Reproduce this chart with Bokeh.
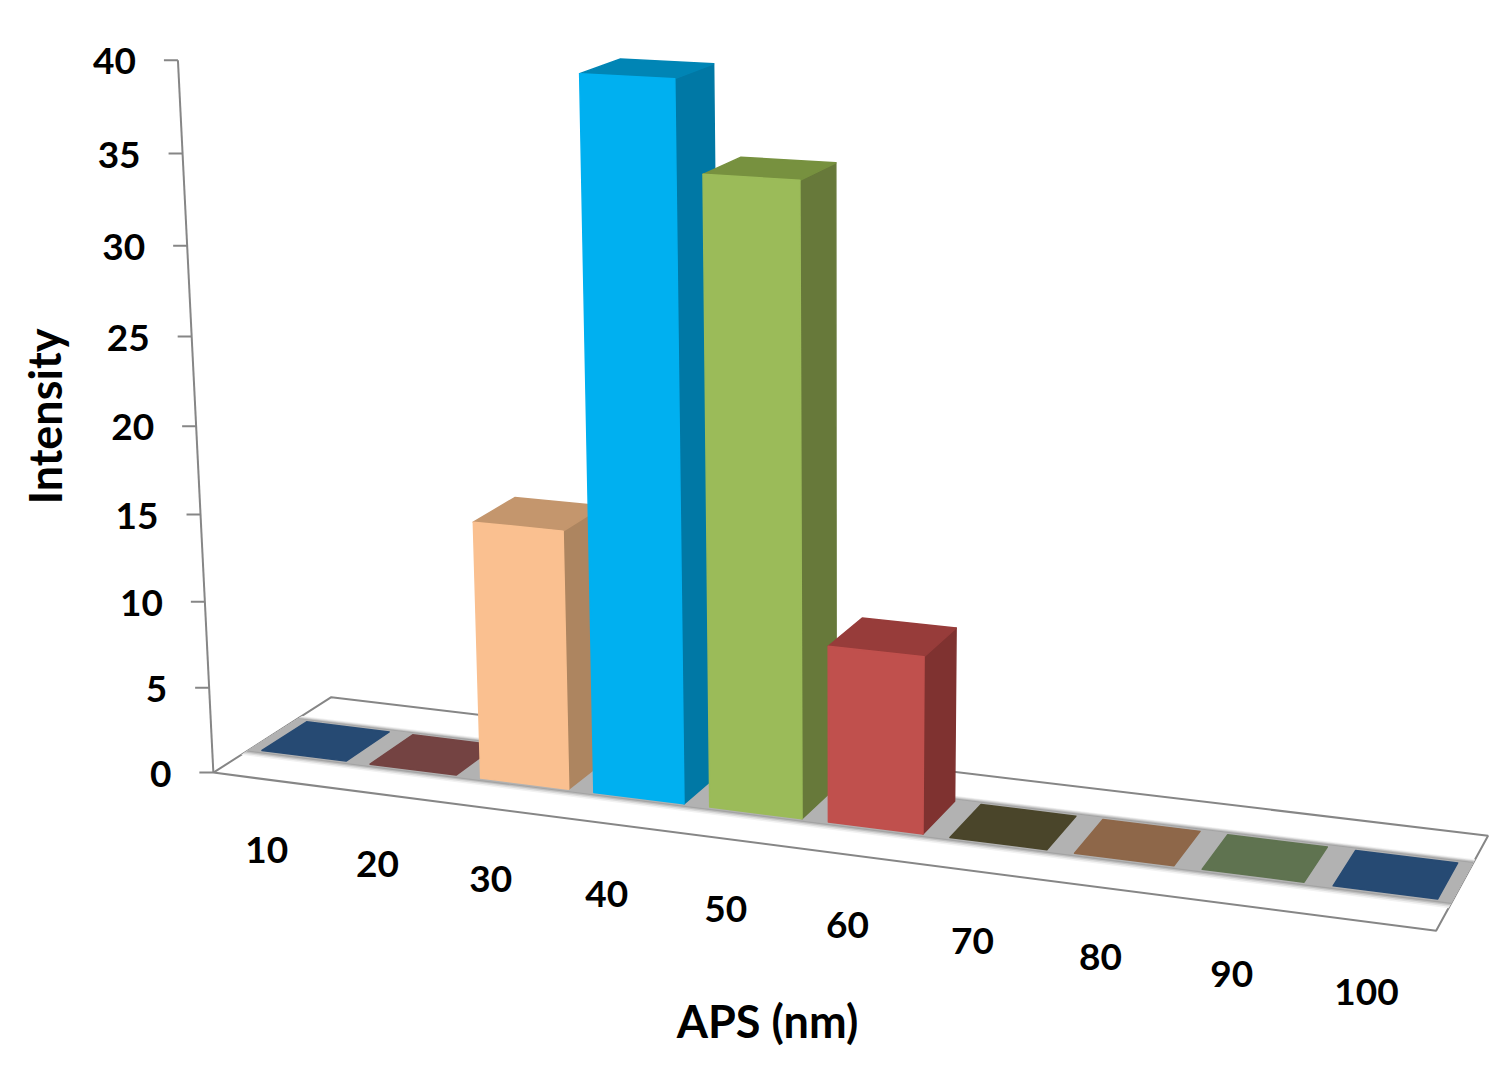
import numpy as np
from bokeh.plotting import figure
from bokeh.models import Range1d
from bokeh.embed import file_html
from bokeh.resources import INLINE
from bokeh.core.properties import value

categories = ["10", "20", "30", "40", "50", "60", "70", "80", "90", "100"]
intensity = [0, 0, 14.8, 39.7, 34.8, 9.9, 0, 0, 0, 0]
y_ticks = [0, 5, 10, 15, 20, 25, 30, 35, 40]
front_colors = ["#264a73", "#744342", "#fac090", "#00b0f0", "#9bbb59", "#c0504d", "#4a452a", "#8e6749", "#5f7350", "#264a73"]
side_colors = ["#264a73", "#744342", "#ad8560", "#0078a5", "#67793a", "#7f3230", "#4a452a", "#8e6749", "#5f7350", "#264a73"]
top_colors = ["#264a73", "#744342", "#c4966d", "#0085b5", "#77913f", "#973c3a", "#4a452a", "#8e6749", "#5f7350", "#264a73"]

# Chart space: u = category position (0..10), w = depth (0..1), v = intensity.
GAP = 0.11
W0, W1 = 0.30, 0.68
# Perspective camera taking (u, w, v) to pixels.
CAMERA = np.array([
    [1.056864e+02, 1.385064e+02, -1.121601e+00, 2.128622e+02],
    [5.065595e+00, -3.206695e+01, -1.788924e+01, 7.721122e+02],
    [-1.155667e-02, 6.223742e-02, -1.328990e-03, 1.0],
])


def proj(u, w, v):
    h = CAMERA @ np.array([u, w, v, 1.0])
    return h[0] / h[2], h[1] / h[2]


def quad(corners):
    pts = [proj(*q) for q in corners]
    return [a for a, _ in pts], [b for _, b in pts]


p = figure(width=1497, height=1061, output_backend="svg", toolbar_location=None,
           x_range=Range1d(0, 1497), y_range=Range1d(1061, 0), min_border=0)
p.axis.visible = False
p.grid.visible = False
p.outline_line_color = None

# floor plate and its soft grey band
x, y = quad([(0, 0, 0), (10, 0, 0), (10, 1, 0), (0, 1, 0)])
p.patch(x, y, fill_color="white", line_color="#868686", line_width=2)
for a, b, c in [(0.225, 0.74, "#f2f2f2"), (0.24, 0.73, "#dcdcdc"), (0.255, 0.72, "#c0c0c0"),
                (0.268, 0.71, "#a4a4a4"), (0.28, 0.70, "#b2b2b2")]:
    x, y = quad([(0, a, 0), (10, a, 0), (10, b, 0), (0, b, 0)])
    p.patch(x, y, fill_color=c, line_color=None)

# bars, left to right so that each one covers its left neighbour's side
xs, ys, cs = [], [], []
for i, v in enumerate(intensity):
    l, r = i + GAP, i + 1 - GAP
    if v > 0:
        faces = [([(r, W0, 0), (r, W1, 0), (r, W1, v), (r, W0, v)], side_colors[i]),
                 ([(l, W0, v), (r, W0, v), (r, W1, v), (l, W1, v)], top_colors[i]),
                 ([(l, W0, 0), (r, W0, 0), (r, W0, v), (l, W0, v)], front_colors[i])]
    else:
        faces = [([(l, W0, 0), (r, W0, 0), (r, W1, 0), (l, W1, 0)], front_colors[i])]
    for c, col in faces:
        a, b = quad(c)
        xs.append(a)
        ys.append(b)
        cs.append(col)
p.patches(xs, ys, fill_color=cs, line_color=cs, line_width=1.5, line_join="round")

# value axis
a0, b0 = proj(0, 0, y_ticks[0])
a1, b1 = proj(0, 0, y_ticks[-1])
p.line([a0, a1], [b0, b1], line_color="#868686", line_width=2)
TICK = 14
OFF = 42
FONT = value("Lato")
for t in y_ticks:
    a, b = proj(0, 0, t)
    p.line([a - TICK, a], [b, b], line_color="#868686", line_width=2)
    p.text([a - OFF], [b + 1], text=[str(t)], text_font=FONT, text_font_style="bold",
           text_font_size="37px", text_align="right", text_baseline="middle", text_color="black")

# category labels
for i, c in enumerate(categories):
    a, b = proj(i + 0.5, 0, 0)
    p.text([a - 1], [b + 70], text=[c], text_font=FONT, text_font_style="bold",
           text_font_size="37px", text_align="center", text_baseline="middle", text_color="black")

# axis titles
p.text([767], [1020], text=["APS (nm)"], text_font=FONT, text_font_style="bold",
       text_font_size="45px", text_align="center", text_baseline="middle", text_color="black")
p.text([44], [416], text=["Intensity"], angle=[np.pi / 2], text_font=FONT, text_font_style="bold",
       text_font_size="45px", text_align="center", text_baseline="middle", text_color="black")

open("out.html", "w").write(file_html(p, INLINE))
